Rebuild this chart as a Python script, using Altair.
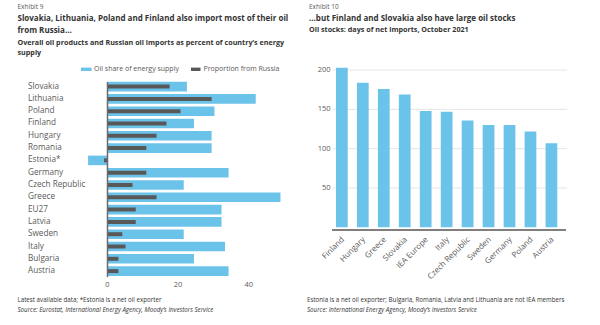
import altair as alt
import pandas as pd

# ---------------- data ----------------
left_countries = ["Slovakia", "Lithuania", "Poland", "Finland", "Hungary", "Romania",
                  "Estonia*", "Germany", "Czech Republic", "Greece", "EU27", "Latvia",
                  "Sweden", "Italy", "Bulgaria", "Austria"]
oil_share = [22.5, 42.0, 30.3, 24.5, 29.5, 29.5, -5.5, 34.3, 21.6, 49.0, 32.3, 32.3,
             21.6, 33.3, 24.5, 34.3]
russia_share = [17.6, 29.5, 20.7, 16.7, 13.9, 11.0, -1.0, 11.0, 7.1, 13.9, 8.0, 8.0,
                4.2, 5.1, 3.1, 3.1]
left_ticks = [0, 20, 40]

right_countries = ["Finland", "Hungary", "Greece", "Slovakia", "IEA Europe", "Italy",
                   "Czech Republic", "Sweden", "Germany", "Poland", "Austria"]
stock_days = [203, 184, 176, 169, 148, 147, 136, 130, 130, 122, 107]
right_ticks = [50, 100, 150, 200]

legend_labels = ["Oil share of energy supply", "Proportion from Russia"]

# ---------------- styles ----------------
FONT = "Open Sans"
BLUE = "#6cc3ea"
DARK = "#585858"
TXT = "#333333"
GREY = "#5a5a5a"

left_df = pd.DataFrame({"country": left_countries, "oil": oil_share, "russia": russia_share})
left_tick_df = pd.DataFrame({"v": left_ticks})
right_df = pd.DataFrame({"country": right_countries, "days": stock_days})
right_tick_df = pd.DataFrame({"v": right_ticks})
one = alt.Data(values=[{}])

# ---------------- left panel ----------------
ly = alt.Y("country:N", axis=None,
           scale=alt.Scale(domain=left_countries, range=[81.8, 275.9],
                           paddingInner=0.22, paddingOuter=0))
lx_scale = alt.Scale(domain=[-6, 50], range=[86.3, 284], nice=False, zero=False)

left_blue = alt.Chart(left_df).mark_bar(color=BLUE).encode(
    x=alt.X("oil:Q", scale=lx_scale, axis=None), x2=alt.datum(0), y=ly)
left_dark = alt.Chart(left_df).mark_bar(color=DARK, size=4).encode(
    x=alt.X("russia:Q", scale=lx_scale, axis=None), x2=alt.datum(0), y=ly)
left_zero = alt.Chart(one).mark_rule(color="#6a6a6a", strokeWidth=1.5).encode(
    x=alt.value(107.5), y=alt.value(82), y2=alt.value(277))
left_cat = alt.Chart(left_df).mark_text(align="left", baseline="middle", font=FONT,
                                        fontSize=8.2, color=GREY).encode(
    y=ly, x=alt.value(28), text="country:N")
left_tlab = alt.Chart(left_tick_df).mark_text(align="center", baseline="middle", font=FONT,
                                              fontSize=7.5, color=GREY).encode(
    x=alt.X("v:Q", scale=lx_scale, axis=None), y=alt.value(285), text="v:Q")

left = alt.layer(left_blue, left_dark, left_zero, left_cat, left_tlab)

# ---------------- right panel ----------------
rx = alt.X("country:N", axis=None,
           scale=alt.Scale(domain=right_countries, range=[336, 557.3],
                           paddingInner=0.44, paddingOuter=0))
ry_scale = alt.Scale(domain=[0, 210], range=[227.3, 62.2], nice=False)

right_grid = alt.Chart(right_tick_df).mark_rule(color="#e6e6e6", strokeWidth=1).encode(
    y=alt.Y("v:Q", scale=ry_scale, axis=None), x=alt.value(333), x2=alt.value(567))
right_bars = alt.Chart(right_df).mark_bar(color=BLUE).encode(
    x=rx, y=alt.Y("days:Q", scale=ry_scale, axis=None), y2=alt.datum(0))
right_base = alt.Chart(one).mark_rule(color="#555555", strokeWidth=1.5).encode(
    x=alt.value(332), x2=alt.value(566), y=alt.value(230))
right_ylab = alt.Chart(right_tick_df).mark_text(align="right", baseline="middle", font=FONT,
                                               fontSize=7.5, color=GREY).encode(
    y=alt.Y("v:Q", scale=ry_scale, axis=None), x=alt.value(330.5), text="v:Q")
right_xlab = alt.Chart(right_df).mark_text(align="right", baseline="middle", font=FONT,
                                           fontSize=8, color=GREY, angle=315,
                                           dx=2).encode(
    x=rx, y=alt.value(240), text="country:N")

right = alt.layer(right_grid, right_bars, right_base, right_ylab, right_xlab)


# ---------------- header / footer texts ----------------
def label(text, x, y, size, weight="normal", color=TXT, style="normal"):
    return alt.Chart(one).mark_text(align="left", baseline="middle", font=FONT,
                                    fontSize=size, fontWeight=weight, color=color,
                                    fontStyle=style).encode(
        x=alt.value(x), y=alt.value(y), text=alt.value(text))


texts = [
    label("Exhibit 9", 17.5, 7, 6.5, color=GREY),
    label("Slovakia, Lithuania, Poland and Finland also import most of their oil", 17.5, 18.5, 8, "bold"),
    label("from Russia…", 17.5, 30.5, 8, "bold"),
    label("Overall oil products and Russian oil imports as percent of country’s energy", 17.5, 42.5, 7.2, "bold"),
    label("supply", 17.5, 53, 7.2, "bold"),
    label(legend_labels[0], 94, 69.3, 7, color=GREY),
    label(legend_labels[1], 203.5, 69.3, 7, color=GREY),
    label("Latest available data; *Estonia is a net oil exporter", 17.5, 300, 6.2, color=TXT),
    label("Source: Eurostat, International Energy Agency, Moody’s Investors Service", 17.5, 309.5, 6.2,
          color=TXT, style="italic"),
    label("Exhibit 10", 309, 7, 6.5, color=GREY),
    label("…but Finland and Slovakia also have large oil stocks", 309, 18.7, 8, "bold"),
    label("Oil stocks: days of net imports, October 2021", 309, 30, 7.2, "bold"),
    label("Estonia is a net oil exporter; Bulgaria, Romania, Latvia and Lithuania are not IEA members",
          307, 300, 6.2, color=TXT),
    label("Source: International Energy Agency, Moody’s Investors Service", 307, 309.5, 6.2,
          color=TXT, style="italic"),
]

swatches = [
    alt.Chart(one).mark_rect(color=BLUE).encode(
        x=alt.value(81), x2=alt.value(91.5), y=alt.value(67.6), y2=alt.value(71)),
    alt.Chart(one).mark_rect(color=DARK).encode(
        x=alt.value(191), x2=alt.value(200.5), y=alt.value(67.6), y2=alt.value(71)),
]

chart = alt.layer(left, right, *texts, *swatches).resolve_scale(
    x="independent", y="independent"
).properties(
    width=600, height=325, padding=0,
    autosize=alt.AutoSizeParams(type="none"),
    background="white",
).configure_view(stroke=None)

chart.save("out.html", embed_options={"renderer": "svg", "actions": False})
